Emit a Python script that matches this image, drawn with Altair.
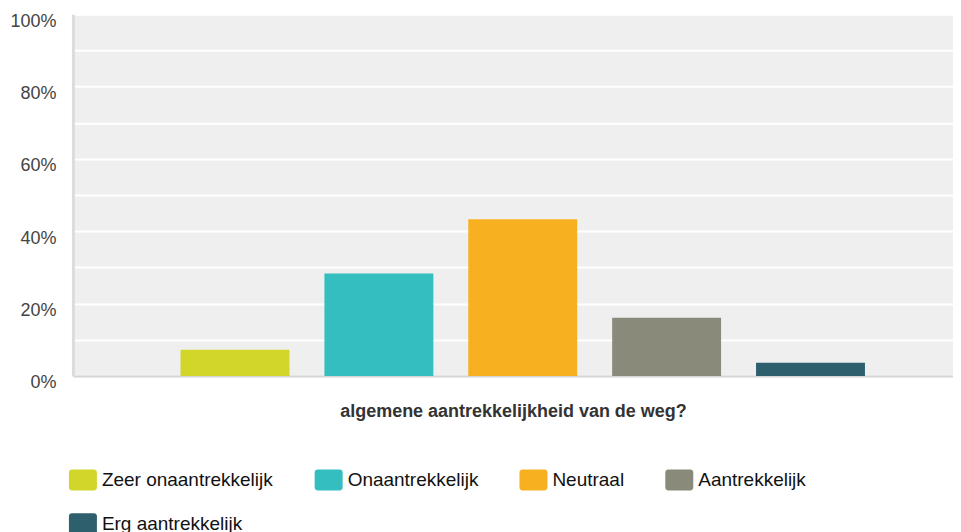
import altair as alt
import pandas as pd

categories = ["Zeer onaantrekkelijk", "Onaantrekkelijk", "Neutraal", "Aantrekkelijk", "Erg aantrekkelijk"]
values = [0.072, 0.283, 0.433, 0.161, 0.036]
colors = ["#d1d628", "#35bec0", "#f7b020", "#898a7a", "#2e5f6d"]
y_ticks = [0, 0.1, 0.2, 0.3, 0.4, 0.5, 0.6, 0.7, 0.8, 0.9, 1.0]
x_title = "algemene aantrekkelijkheid van de weg?"

df = pd.DataFrame({"cat": categories, "pct": values})

rounded = ("M-0.79,-0.75 H0.79 A0.21,0.21 0 0 1 1,-0.54 V0.54 A0.21,0.21 0 0 1 0.79,0.75 "
           "H-0.79 A0.21,0.21 0 0 1 -1,0.54 V-0.54 A0.21,0.21 0 0 1 -0.79,-0.75 Z")

chart = alt.Chart(df).mark_bar().encode(
    x=alt.X("cat:N", sort=categories,
            scale=alt.Scale(paddingInner=0.243, paddingOuter=0.68, align=0.55),
            axis=alt.Axis(title=x_title, labels=False, ticks=False, domainColor="#d4d4d4",
                          domainWidth=2, titleFontSize=18, titleFontWeight="bold",
                          titleColor="#333333", titlePadding=27)),
    y=alt.Y("pct:Q", scale=alt.Scale(domain=[0, 1], nice=False),
            axis=alt.Axis(title=None, values=y_ticks,
                          labelExpr="round(datum.value*10) % 2 == 0 ? round(datum.value*100) + '%' : ''",
                          ticks=False, domainColor="#dcdcdc", domainWidth=3,
                          gridColor="#ffffff", gridWidth=2, gridOpacity=1,
                          labelFontSize=18, labelColor="#444444", labelPadding=17,
                          labelOffset=7, minExtent=60, maxExtent=60)),
    color=alt.Color("cat:N", sort=categories,
                    scale=alt.Scale(domain=categories, range=colors),
                    legend=alt.Legend(title=None, orient="none", legendX=-4, legendY=452,
                                      direction="horizontal", columns=4,
                                      symbolType=rounded, symbolSize=784,
                                      symbolOpacity=1, symbolStrokeWidth=0,
                                      labelFontSize=19, labelColor="#111111",
                                      labelOffset=5, columnPadding=41, rowPadding=19,
                                      labelLimit=400)),
).properties(
    width=881, height=362,
    padding={"left": 1, "top": 4, "right": 0, "bottom": 0},
).configure(font="Liberation Sans").configure_view(fill="#efefef", stroke="transparent")

chart.save("out.html", embed_options={"renderer": "svg", "actions": False})
